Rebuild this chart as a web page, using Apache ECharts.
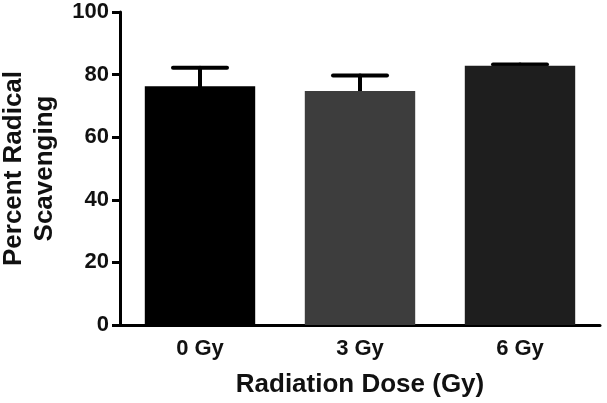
<!DOCTYPE html>
<html><head><meta charset="utf-8">
<script src="https://cdn.jsdelivr.net/npm/echarts@6/dist/echarts.min.js"></script>
<style>html,body{margin:0;padding:0;background:#fff}#c{width:607px;height:403px}</style>
</head><body><div id="c"></div>
<script>
const categories = ['0 Gy', '3 Gy', '6 Gy'];
const means = [76.3, 74.8, 82.8];
const errors = [5.9, 4.9, 0.4];
const barColors = ['#000000', '#3d3d3d', '#1e1e1e'];
const yTicks = [0, 20, 40, 60, 80, 100];

const chart = echarts.init(document.getElementById('c'));
const font = 'Liberation Sans, Arial, sans-serif';
chart.setOption({
  animation: false,
  grid: { left: 120, right: 7, top: 12, bottom: 78, containLabel: false, outerBoundsMode: 'none' },
  xAxis: {
    type: 'category', data: categories,
    name: 'Radiation Dose (Gy)', nameLocation: 'middle', nameGap: 47,
    nameTextStyle: { fontFamily: font, fontWeight: 'bold', fontSize: 26, color: '#111' },
    axisLine: { lineStyle: { color: '#000', width: 3 } },
    axisTick: { alignWithLabel: true, length: 9, lineStyle: { color: '#000', width: 3 } },
    axisLabel: { fontFamily: font, fontWeight: 'bold', fontSize: 22, color: '#111', margin: 13 }
  },
  yAxis: {
    type: 'value', min: 0, max: 100, interval: 20,
    name: 'Percent Radical\nScavenging', nameLocation: 'middle', nameGap: 60,
    nameTextStyle: { fontFamily: font, fontWeight: 'bold', fontSize: 26, color: '#111', lineHeight: 31 },
    axisLine: { show: true, lineStyle: { color: '#000', width: 3 } },
    axisTick: { show: true, length: 8, lineStyle: { color: '#000', width: 3 } },
    splitLine: { show: false },
    axisLabel: { fontFamily: font, fontWeight: 'bold', fontSize: 22, color: '#111', margin: 11,
      formatter: v => yTicks.includes(v) ? String(v) : '' }
  },
  series: [
    {
      type: 'bar', barWidth: '69%',
      data: means.map((v, i) => ({ value: v, itemStyle: { color: barColors[i] } })),
      z: 2
    },
    {
      type: 'custom', z: 1,
      data: means.map((v, i) => [i, v, v + errors[i]]),
      renderItem: function (params, api) {
        const top = api.coord([api.value(0), api.value(2)]);
        const base = api.coord([api.value(0), api.value(1)]);
        const hw = 27;
        const st = { stroke: '#000', lineWidth: 4, lineCap: 'round' };
        return { type: 'group', children: [
          { type: 'line', shape: { x1: top[0], y1: top[1], x2: base[0], y2: base[1] }, style: st },
          { type: 'line', shape: { x1: top[0] - hw, y1: top[1], x2: top[0] + hw, y2: top[1] }, style: st }
        ] };
      }
    }
  ]
});
</script></body></html>
